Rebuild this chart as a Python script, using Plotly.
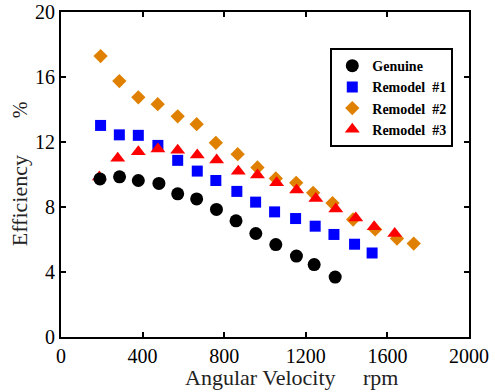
import plotly.graph_objects as go

# Data
genuine_x = [191, 287, 379, 480, 572, 665, 762, 858, 955, 1053, 1154, 1241, 1344]
genuine_y = [9.73, 9.86, 9.63, 9.45, 8.81, 8.50, 7.85, 7.15, 6.37, 5.69, 4.98, 4.46, 3.69]

rem1_x = [194, 286, 379, 475, 572, 668, 759, 862, 954, 1047, 1150, 1246, 1338, 1439, 1525]
rem1_y = [13.02, 12.44, 12.41, 11.79, 10.87, 10.21, 9.63, 8.96, 8.30, 7.70, 7.29, 6.82, 6.31, 5.71, 5.17]

rem2_x = [194, 286, 379, 474, 572, 665, 759, 866, 963, 1053, 1153, 1236, 1331, 1432, 1540, 1647, 1729]
rem2_y = [17.29, 15.75, 14.75, 14.33, 13.58, 13.10, 11.95, 11.25, 10.43, 9.76, 9.49, 8.87, 8.24, 7.23, 6.62, 6.06, 5.75]

rem3_x = [188, 278, 379, 475, 572, 668, 763, 869, 963, 1057, 1155, 1249, 1347, 1445, 1535, 1636]
rem3_y = [9.85, 11.0, 11.4, 11.57, 11.5, 11.2, 10.9, 10.2, 9.97, 9.5, 9.05, 8.52, 7.87, 7.33, 6.78, 6.37]

x_ticks = [0, 400, 800, 1200, 1600, 2000]
y_ticks = [0, 4, 8, 12, 16, 20]

FONT = "Liberation Serif, Times New Roman, serif"
ORANGE = "#E08000"

fig = go.Figure()
fig.add_trace(go.Scatter(x=rem2_x, y=rem2_y, mode="markers", name="Remodel\u00a0\u00a0#2",
                         legendrank=3,
                         marker=dict(symbol="diamond", size=11, color=ORANGE)))
fig.add_trace(go.Scatter(x=rem1_x, y=rem1_y, mode="markers", name="Remodel\u00a0\u00a0#1",
                         legendrank=2,
                         marker=dict(symbol="square", size=11, color="#0000FF")))
fig.add_trace(go.Scatter(x=rem3_x, y=rem3_y, mode="markers", name="Remodel\u00a0\u00a0#3",
                         legendrank=4,
                         marker=dict(symbol="triangle-up", size=13, color="#FF0000")))
fig.add_trace(go.Scatter(x=genuine_x, y=genuine_y, mode="markers", name="Genuine",
                         legendrank=1,
                         marker=dict(symbol="circle", size=13, color="#000000")))

axis_common = dict(
    showline=True, linecolor="black", linewidth=2, mirror="ticks",
    ticks="inside", ticklen=5, tickwidth=1.5, tickcolor="black",
    showgrid=False, zeroline=False, automargin=False,
    tickfont=dict(family=FONT, size=20, color="black"),
)

fig.update_xaxes(range=[0, 2000], tickvals=x_ticks, ticktext=[str(v) for v in x_ticks], **axis_common)
fig.update_yaxes(range=[0, 20], tickvals=y_ticks, ticktext=[str(v) for v in y_ticks], **axis_common)

fig.update_layout(
    width=495, height=392,
    margin=dict(l=61, r=26, t=12, b=55, autoexpand=False),
    paper_bgcolor="white", plot_bgcolor="white",
    font=dict(family=FONT, color="black"),
    legend=dict(
        x=0.66, y=0.889, xanchor="left", yanchor="top",
        bgcolor="white", bordercolor="black", borderwidth=2,
        font=dict(family=FONT, size=14, color="black", weight="bold"),
        itemwidth=30, tracegroupgap=0,
    ),
    annotations=[
        dict(text="Angular Velocity\u00a0\u00a0\u00a0\u00a0\u00a0rpm", xref="paper", yref="paper",
             x=0.565, y=-0.126, xanchor="center", yanchor="middle", showarrow=False,
             font=dict(family=FONT, size=22, color="#222222")),
        dict(text="Efficiency", xref="paper", yref="paper",
             x=-0.101, y=0.42, xanchor="center", yanchor="middle", showarrow=False,
             textangle=-90, font=dict(family=FONT, size=22, color="#222222")),
        dict(text="%", xref="paper", yref="paper",
             x=-0.101, y=0.70, xanchor="center", yanchor="middle", showarrow=False,
             textangle=-90, font=dict(family=FONT, size=20, color="#222222")),
    ],
)

fig.write_html("out.html", config={"displayModeBar": False},
               post_script="document.body.style.margin='0';document.body.style.overflow='hidden';")
